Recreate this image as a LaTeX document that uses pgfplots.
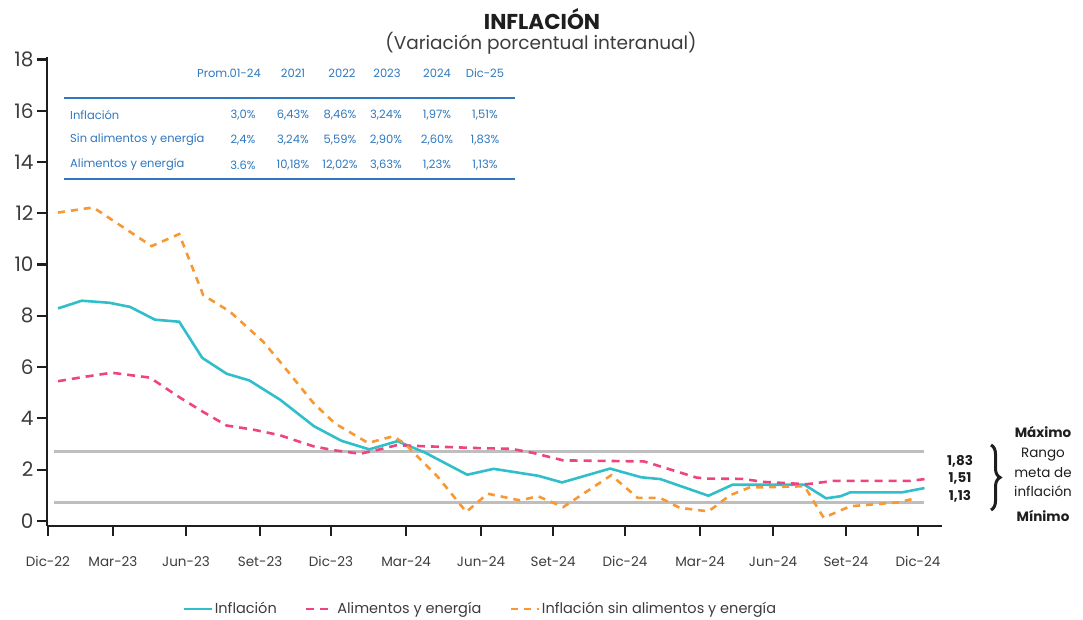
\documentclass[border=0pt]{standalone}
\usepackage{fontspec}
\setmainfont{Poppins}
\usepackage{pgfplots}
\pgfplotsset{compat=1.18}
\usetikzlibrary{decorations.pathreplacing}
\definecolor{cInf}{RGB}{48,190,202}
\definecolor{cAli}{RGB}{238,68,128}
\definecolor{cSin}{RGB}{247,152,52}
\definecolor{cTab}{RGB}{46,120,190}
\definecolor{cGrid}{RGB}{190,190,190}
\definecolor{cAx}{RGB}{30,30,30}
\definecolor{cTxt}{RGB}{60,60,60}
\begin{document}
\begin{tikzpicture}
\path[use as bounding box] (0pt,0pt) rectangle (1083pt,620pt);
\begin{axis}[
  at={(47pt,94pt)}, anchor=south west, scale only axis,
  width=895pt, height=469pt,
  xmin=-0.458, xmax=36.83, ymin=-0.2, ymax=18.1,
  axis x line*=bottom, axis y line*=left,
  axis line style={-, line width=2.5pt, color=cAx},
  tick style={line width=2.2pt, color=cAx},
  major tick length=10pt,
  tick align=outside,
  ytick={0,2,...,18},
  xtick={-0.42,2.29,5.33,8.42,11.375,14.5,17.625,20.625,23.625,26.75,29.79,32.83,35.83},
  xticklabels={Dic-22,Mar-23,Jun-23,Set-23,Dic-23,Mar-24,Jun-24,Set-24,Dic-24,Mar-24,Jun-24,Set-24,Dic-24},
  /pgf/number format/assume math mode=true,
  yticklabel style={font=\fontsize{20}{20}\selectfont, color=cTxt},
  xticklabel style={font=\fontsize{13.5}{14}\selectfont, color=cTxt, yshift=-17pt},
  legend style={at={(0.484,-0.177)}, anchor=center, draw=none, fill=none,
    font=\fontsize{14.5}{15}\selectfont, text=cTxt, legend columns=3,
    /tikz/every even column/.append style={column sep=26pt}},
  legend image code/.code={\draw[#1] (0pt,0pt) -- (28pt,0pt);},
  clip=false,
]
\addplot[cGrid, line width=3pt, forget plot] coordinates {(-0.15,2.72) (36.1,2.72)};
\addplot[cGrid, line width=3pt, forget plot] coordinates {(-0.15,0.70) (36.1,0.70)};

\addplot[cInf, line width=2.6pt] coordinates {
(0,8.29) (0.99,8.59) (2.14,8.51) (3.0,8.35) (4.04,7.85) (5.05,7.77) (6.01,6.36) (7.03,5.74) (7.97,5.48) (9.25,4.73) (10.67,3.69) (11.82,3.12) (12.97,2.79) (14.14,3.11) (15.3,2.66) (17.05,1.80) (18.15,2.03) (20.0,1.76) (21.0,1.50) (23.0,2.04) (24.3,1.70) (25.1,1.63) (27.1,0.98) (28.1,1.41) (31.1,1.41) (32.0,0.88) (32.6,0.96) (33.0,1.11) (35.15,1.11) (36.1,1.28)
};
\addlegendentry{Inflación}

\addplot[cAli, line width=2.6pt, dash pattern=on 8pt off 6pt] coordinates {
(0,5.45) (1.1,5.62) (2.24,5.78) (3.83,5.59) (5.08,4.81) (6.05,4.25) (7.03,3.72) (8.14,3.56) (9.25,3.34) (10.64,2.91) (11.47,2.76) (12.58,2.62) (13.14,2.73) (14.1,2.95) (17.5,2.84) (18.9,2.81) (19.8,2.65) (21.05,2.36) (24.4,2.32) (24.8,2.21) (26.6,1.69) (27.0,1.65) (28.5,1.64) (29.4,1.52) (31.2,1.43) (32.3,1.56) (35.5,1.56) (36.1,1.63)
};
\addlegendentry{Alimentos y energía}

\addplot[cSin, line width=2.6pt, dash pattern=on 7pt off 6pt] coordinates {
(0,12.03) (1.47,12.23) (3.9,10.72) (5.05,11.19) (6.05,8.81) (7.17,8.16) (8.55,6.99) (9.25,6.21) (10.64,4.6) (11.54,3.8) (12.92,3.04) (13.96,3.30) (14.44,3.02) (15.83,1.71) (17.01,0.35) (17.9,1.06) (19.25,0.80) (20.0,0.96) (21.05,0.54) (23.05,1.78) (24.15,0.90) (25.08,0.90) (25.9,0.51) (27.1,0.37) (28.0,1.0) (28.8,1.30) (31.1,1.35) (31.9,0.12) (33.0,0.57) (35.1,0.73) (35.8,0.91)
};
\addlegendentry{Inflación sin alimentos y energía}
\end{axis}

% title
\node[font=\bfseries\fontsize{21.5}{22}\selectfont, text=cAx, inner sep=0pt] at (542pt,601pt) {INFLACIÓN};
\node[font=\fontsize{18.5}{19}\selectfont, text=cTxt, inner sep=0pt] at (541pt,577pt) {(Variación porcentual interanual)};

% table
\begin{scope}[every node/.style={font=\fontsize{11.5}{12}\selectfont, text=cTab, inner sep=0pt}]
\node[anchor=east] at (261pt,547pt) {Prom.01-24};
\node at (293pt,547pt) {2021};
\node at (342pt,547pt) {2022};
\node at (387pt,547pt) {2023};
\node at (437pt,547pt) {2024};
\node at (485pt,547pt) {Dic-25};
\draw[cTab, line width=2.5pt] (64pt,522pt) -- (515pt,522pt);
\draw[cTab, line width=2.5pt] (64pt,441pt) -- (515pt,441pt);
\node[anchor=west] at (70pt,505pt) {Inflación};
\node[anchor=west] at (70pt,480pt) {Sin alimentos y energía};
\node[anchor=west] at (70pt,455pt) {Alimentos y energía};
\node at (243pt,505pt) {3,0\%};
\node at (293pt,505pt) {6,43\%};
\node at (340pt,505pt) {8,46\%};
\node at (386pt,505pt) {3,24\%};
\node at (437pt,505pt) {1,97\%};
\node at (485pt,505pt) {1,51\%};
\node at (243pt,480pt) {2,4\%};
\node at (293pt,480pt) {3,24\%};
\node at (340pt,480pt) {5,59\%};
\node at (386pt,480pt) {2,90\%};
\node at (437pt,480pt) {2,60\%};
\node at (485pt,480pt) {1,83\%};
\node at (243pt,455pt) {3.6\%};
\node at (293pt,455pt) {10,18\%};
\node at (340pt,455pt) {12,02\%};
\node at (386pt,455pt) {3,63\%};
\node at (437pt,455pt) {1,23\%};
\node at (485pt,455pt) {1,13\%};
\end{scope}

% right annotations
\begin{scope}[every node/.style={font=\fontsize{13.5}{14}\selectfont, text=cAx, inner sep=0pt}]
\node[font=\bfseries\fontsize{13.5}{14}\selectfont] at (1043pt,188pt) {Máximo};
\node at (1043pt,165pt) {Rango};
\node at (1043pt,147pt) {meta de};
\node at (1043pt,129pt) {inflación};
\node[font=\bfseries\fontsize{13.5}{14}\selectfont] at (1043pt,104pt) {Mínimo};
\node[font=\bfseries\fontsize{13.5}{14}\selectfont] at (960pt,159pt) {1,83};
\node[font=\bfseries\fontsize{13.5}{14}\selectfont] at (960pt,142pt) {1,51};
\node[font=\bfseries\fontsize{13.5}{14}\selectfont] at (960pt,124pt) {1,13};
\end{scope}
\draw[cAx, line width=3pt, decorate, decoration={brace, amplitude=9pt}] (991pt,175pt) -- (991pt,110pt);
\end{tikzpicture}
\end{document}
